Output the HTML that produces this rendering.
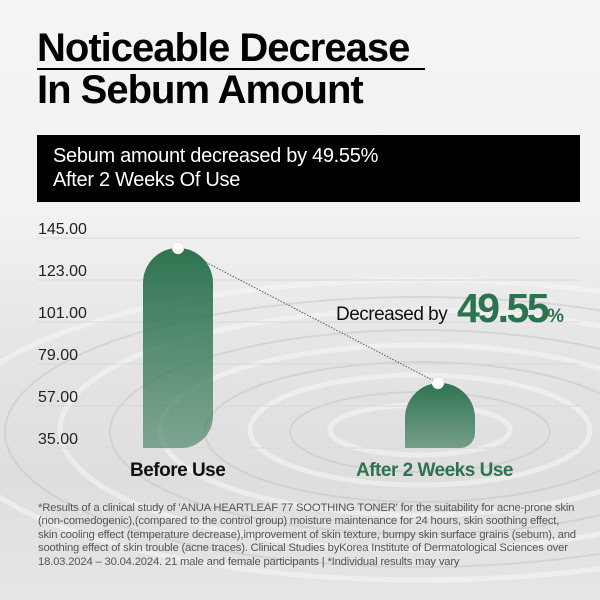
<!DOCTYPE html>
<html><head><meta charset="utf-8"><style>
*{margin:0;padding:0}
body{width:600px;height:600px;overflow:hidden;font-family:"Liberation Sans",sans-serif;position:relative;background:linear-gradient(180deg,#f4f4f4 0%,#f2f2f2 35%,#e4e4e4 60%,#dedede 80%,#e6e6e6 100%)}
.a{position:absolute;white-space:nowrap}
</style></head><body>
<svg class="a" style="left:0;top:0" width="600" height="600">
<defs>
<linearGradient id="g" x1="0" y1="0" x2="0" y2="1"><stop offset="0" stop-color="#2e7350"/><stop offset="1" stop-color="#2e7350" stop-opacity="0.55"/></linearGradient>
<linearGradient id="g2" x1="0" y1="0" x2="0" y2="1"><stop offset="0" stop-color="#2e7350"/><stop offset="1" stop-color="#2e7350" stop-opacity="0.6"/></linearGradient>
</defs>
<g fill="none" stroke="#f6f6f6" stroke-width="5" opacity="0.6">
<ellipse cx="420" cy="430" rx="90" ry="25"/><ellipse cx="420" cy="430" rx="170" ry="55"/><ellipse cx="420" cy="430" rx="260" ry="85"/><ellipse cx="420" cy="430" rx="360" ry="120"/><ellipse cx="420" cy="430" rx="470" ry="150"/>
</g>
<g fill="none" stroke="#bdbdbd" stroke-width="2" opacity="0.4">
<ellipse cx="420" cy="432" rx="130" ry="40"/><ellipse cx="420" cy="432" rx="215" ry="70"/><ellipse cx="420" cy="432" rx="310" ry="102"/><ellipse cx="420" cy="432" rx="415" ry="135"/>
</g>
<g stroke="#d8d8d8" stroke-width="1">
<line x1="37" y1="238" x2="580" y2="238"/><line x1="37" y1="280" x2="580" y2="280"/><line x1="37" y1="322" x2="580" y2="322"/><line x1="37" y1="364" x2="580" y2="364"/><line x1="37" y1="406" x2="580" y2="406"/><line x1="37" y1="448" x2="580" y2="448"/>
</g>
<path d="M143 448 V283 A35 35 0 0 1 213 283 V416 A32 32 0 0 1 181 448 Z" fill="url(#g)"/>
<path d="M405 448 V418 A35 35 0 0 1 475 418 V433 A15 15 0 0 1 460 448 Z" fill="url(#g2)"/>
<line x1="190" y1="254" x2="438" y2="383" stroke="#3a6a52" stroke-width="1" stroke-dasharray="1.5 1.5"/>
<circle cx="178" cy="248" r="6" fill="#fff" stroke="#ccc" stroke-width="0.5"/>
<circle cx="438" cy="383" r="6" fill="#fff" stroke="#ccc" stroke-width="0.5"/>
</svg>
<div class="a" style="left:37px;top:27px;font-size:40px;font-weight:bold;color:#000;letter-spacing:-1px;line-height:42px">Noticeable Decrease<br>In Sebum Amount</div>
<div class="a" style="left:37px;top:68px;width:388px;height:2px;background:#000"></div>
<div class="a" style="left:37px;top:135px;width:543px;height:67px;background:#000"></div>
<div class="a" style="left:53px;top:144px;font-size:20px;color:#fff;line-height:24px;letter-spacing:-0.3px">Sebum amount decreased by 49.55%<br>After 2 Weeks Of Use</div>
<div class="a" style="left:38px;top:209px;font-size:16px;color:#222;line-height:42px">145.00<br>123.00<br>101.00<br>79.00<br>57.00<br>35.00</div>
<div class="a" style="left:130px;top:460px;font-size:19px;font-weight:bold;color:#111;letter-spacing:-0.5px">Before Use</div>
<div class="a" style="left:356px;top:460px;font-size:19px;font-weight:bold;color:#2e7350;letter-spacing:-0.5px">After 2 Weeks Use</div>
<div class="a" style="left:336px;top:304px;font-size:19px;color:#111;letter-spacing:-0.5px">Decreased by</div>
<div class="a" style="left:457px;top:285px;font-size:41px;font-weight:bold;color:#2e7350;letter-spacing:-2.5px">49.55<span style="font-size:19px;letter-spacing:0">%</span></div>
<div class="a" style="left:38px;top:502px;font-size:11.3px;color:#555;line-height:13.4px;letter-spacing:-0.2px">*Results of a clinical study of 'ANUA HEARTLEAF 77 SOOTHING TONER' for the suitability for acne-prone skin<br>(non-comedogenic),(compared to the control group) moisture maintenance for 24 hours, skin soothing effect,<br>skin cooling effect (temperature decrease),improvement of skin texture, bumpy skin surface grains (sebum), and<br>soothing effect of skin trouble (acne traces). Clinical Studies byKorea Institute of Dermatological Sciences over<br>18.03.2024 – 30.04.2024. 21 male and female participants | *Individual results may vary</div>
</body></html>
